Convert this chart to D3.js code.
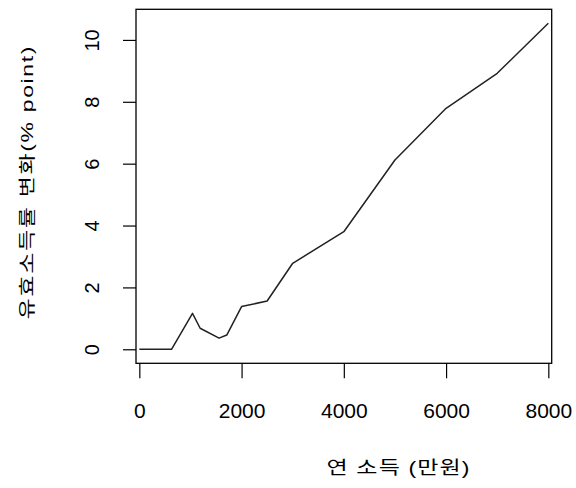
<!DOCTYPE html>
<html>
<head>
<meta charset="utf-8">
<script src="https://cdn.jsdelivr.net/npm/d3@7"></script>
<style>
  body { margin: 0; background: #fff; }
  text { font-family: "Liberation Sans", Arial, "Noto Sans CJK KR", sans-serif; fill: #000; }
  .kr { font-family: "Liberation Sans", "Noto Sans CJK KR", sans-serif; }
</style>
</head>
<body>
<div id="graph1"></div>
<script>
// income (만원) vs change of effective income rate (% point)
var income = [0, 630, 1040, 1190, 1560, 1710, 2000, 2500, 3000, 4000, 5000, 6000, 7000, 8000];
var change = [0, 0, 1.16, 0.68, 0.36, 0.46, 1.38, 1.56, 2.78, 3.80, 6.12, 7.79, 8.92, 10.54];
var xTicks = [0, 2000, 4000, 6000, 8000];
var yTicks = [0, 2, 4, 6, 8, 10];
var xTitle = "연 소득 (만원)";
var yTitle = "유효소득률 변화(% point)";

var margin = {top: 9.3, right: 24.3, bottom: 124.7, left: 136},
    width = 576 - margin.left - margin.right,
    height = 488 - margin.top - margin.bottom;

var svg = d3.select("#graph1")
  .append("svg")
    .attr("width", 576)
    .attr("height", 488)
  .append("g")
    .attr("transform", "translate(" + margin.left + "," + margin.top + ")");

var x = d3.scaleLinear()
    .domain([-65, 8066])
    .range([0, width]);

var y = d3.scaleLinear()
    .domain([-0.453, 10.99])
    .range([height, 0]);

// x axis
var xAxis = svg.append("g")
    .attr("transform", "translate(0," + height + ")")
    .call(d3.axisBottom(x).tickValues(xTicks).tickSize(15).tickFormat(d3.format("d")));
xAxis.select(".domain").remove();
xAxis.selectAll("line").attr("stroke", "#000").attr("stroke-width", 1.2);
xAxis.selectAll("text")
    .attr("y", 54.7)
    .attr("dy", 0)
    .style("font-size", "21px")
    .attr("fill", "#000");

// y axis
var yAxis = svg.append("g")
    .call(d3.axisLeft(y).tickValues(yTicks).tickSize(13).tickFormat(d3.format("d")));
yAxis.select(".domain").remove();
yAxis.selectAll("line").attr("stroke", "#000").attr("stroke-width", 1.2);
yAxis.selectAll("text")
    .attr("x", 0)
    .attr("dy", 0)
    .attr("text-anchor", "middle")
    .attr("transform", "translate(-37,0) rotate(-90)")
    .style("font-size", "20px")
    .attr("fill", "#000");

// box
svg.append("rect")
    .attr("x", 0)
    .attr("y", 0)
    .attr("width", width)
    .attr("height", height)
    .attr("fill", "none")
    .attr("stroke", "#000")
    .attr("stroke-width", 1.3);

// line
var line = d3.line()
    .x(function(d, i) { return x(income[i]); })
    .y(function(d) { return y(d); });

svg.append("path")
    .datum(change)
    .attr("d", line)
    .attr("fill", "none")
    .attr("stroke", "#222")
    .attr("stroke-width", 1.5)
    .attr("stroke-linejoin", "round");

// titles (hangul in the original is wide and flat, so squash it a bit)
var labels = d3.select("svg").append("g");

labels.append("g")
    .attr("transform", "translate(398,474) scale(1,0.8)")
    .append("text")
    .text(xTitle)
    .attr("class", "kr")
    .attr("text-anchor", "middle")
    .attr("textLength", 143)
    .attr("lengthAdjust", "spacing")
    .style("font-size", "23px");

labels.append("g")
    .attr("transform", "translate(33,183) rotate(-90) scale(1,0.75)")
    .append("text")
    .text(yTitle)
    .attr("class", "kr")
    .attr("text-anchor", "middle")
    .attr("textLength", 273)
    .attr("lengthAdjust", "spacing")
    .style("font-size", "23px");
</script>
</body>
</html>
